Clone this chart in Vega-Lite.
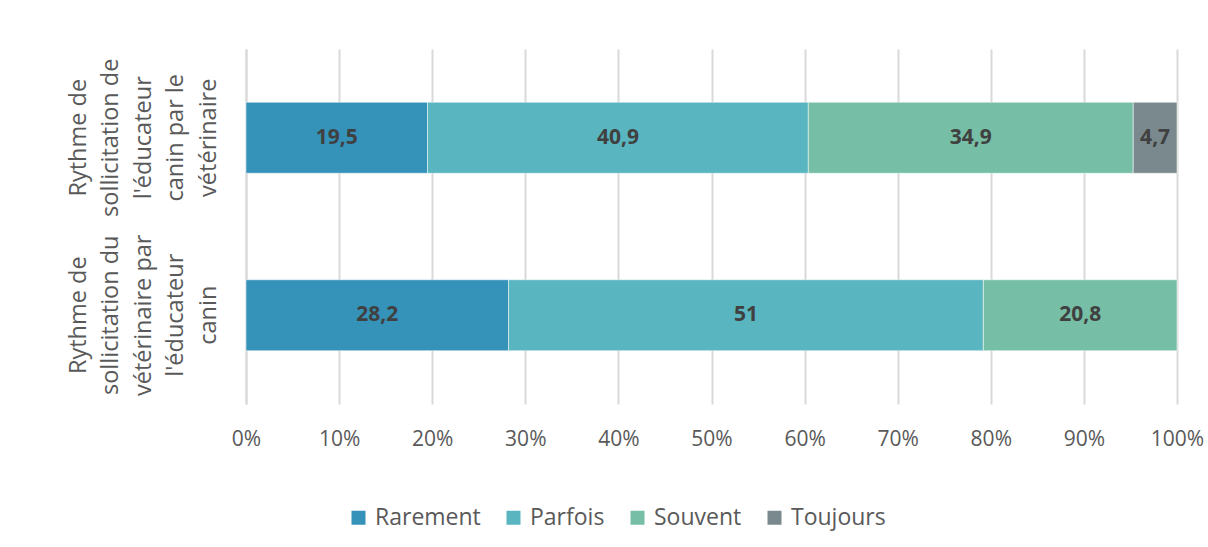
{
  "$schema": "https://vega.github.io/schema/vega-lite/v6.json",
  "width": 931,
  "height": 355,
  "autosize": {"type": "none"},
  "padding": {"left": 246, "top": 49, "right": 31, "bottom": 143},
  "background": "#ffffff",
  "config": {
    "font": "Open Sans",
    "view": {"stroke": null},
    "locale": {"number": {"decimal": ",", "thousands": " ", "grouping": [3], "currency": ["", " €"]}}
  },
  "data": {
    "values": [
      {"cat": "Rythme de sollicitation de l'éducateur canin par le vétérinaire", "rep": "Rarement", "o": 1, "v": 19.5},
      {"cat": "Rythme de sollicitation de l'éducateur canin par le vétérinaire", "rep": "Parfois", "o": 2, "v": 40.9},
      {"cat": "Rythme de sollicitation de l'éducateur canin par le vétérinaire", "rep": "Souvent", "o": 3, "v": 34.9},
      {"cat": "Rythme de sollicitation de l'éducateur canin par le vétérinaire", "rep": "Toujours", "o": 4, "v": 4.7},
      {"cat": "Rythme de sollicitation du vétérinaire par l'éducateur canin", "rep": "Rarement", "o": 1, "v": 28.2},
      {"cat": "Rythme de sollicitation du vétérinaire par l'éducateur canin", "rep": "Parfois", "o": 2, "v": 51},
      {"cat": "Rythme de sollicitation du vétérinaire par l'éducateur canin", "rep": "Souvent", "o": 3, "v": 20.8}
    ]
  },
  "transform": [
    {"stack": "v", "groupby": ["cat"], "sort": [{"field": "o"}], "as": ["x0", "x1"]},
    {"calculate": "(datum.x0 + datum.x1) / 2", "as": "xm"}
  ],
  "encoding": {
    "y": {
      "field": "cat",
      "type": "nominal",
      "title": null,
      "sort": ["Rythme de sollicitation de l'éducateur canin par le vétérinaire", "Rythme de sollicitation du vétérinaire par l'éducateur canin"],
      "scale": {"paddingInner": 0.6, "paddingOuter": 0.3},
      "axis": {
        "labelExpr": "indexof(datum.label, 'sollicitation du') >= 0 ? ['Rythme de', 'sollicitation du', 'vétérinaire par', \"l'éducateur\", 'canin'] : ['Rythme de', 'sollicitation de', \"l'éducateur\", 'canin par le', 'vétérinaire']",
        "labelAngle": -90,
        "labelAlign": "center",
        "labelBaseline": "bottom",
        "labelLineHeight": 32.5,
        "labelFontSize": 23.5,
        "labelFont": "Open Sans",
        "labelColor": "#595959",
        "labelPadding": 156,
        "labelLimit": 400,
        "ticks": false,
        "domain": true,
        "domainColor": "#d9d9d9",
        "domainWidth": 2,
        "grid": false
      }
    }
  },
  "layer": [
    {
      "mark": {"type": "bar", "stroke": "#ffffff", "strokeWidth": 1, "strokeOpacity": 0.5},
      "encoding": {
        "x": {
          "field": "x0",
          "type": "quantitative",
          "title": null,
          "scale": {"domain": [0, 100], "nice": false},
          "axis": {
            "values": [0, 10, 20, 30, 40, 50, 60, 70, 80, 90, 100],
            "labelExpr": "datum.value + '%'",
            "labelFlush": false,
            "labelFontSize": 21,
            "labelFont": "Open Sans",
            "labelColor": "#595959",
            "labelPadding": 24,
            "ticks": false,
            "domain": false,
            "grid": true,
            "gridColor": "#d9d9d9",
            "gridWidth": 2
          }
        },
        "x2": {"field": "x1"},
        "color": {
          "field": "rep",
          "type": "nominal",
          "sort": ["Rarement", "Parfois", "Souvent", "Toujours"],
          "scale": {"domain": ["Rarement", "Parfois", "Souvent", "Toujours"], "range": ["#3592b8", "#59b5bf", "#76bea6", "#7a898d"]},
          "legend": {
            "orient": "none",
            "legendX": 101,
            "legendY": 457,
            "direction": "horizontal",
            "columns": 4,
            "title": null,
            "symbolType": "square",
            "symbolSize": 196,
            "symbolStrokeWidth": 0,
            "symbolOpacity": 1,
            "labelFontSize": 23,
            "labelFont": "Open Sans",
            "labelColor": "#595959",
            "labelOffset": 5,
            "columnPadding": 21
          }
        }
      }
    },
    {
      "mark": {"type": "text", "font": "Open Sans", "fontWeight": "bold", "fontSize": 21, "color": "#404040"},
      "encoding": {
        "x": {"field": "xm", "type": "quantitative"},
        "text": {"field": "v", "type": "quantitative", "format": ".1~f"}
      }
    }
  ]
}
